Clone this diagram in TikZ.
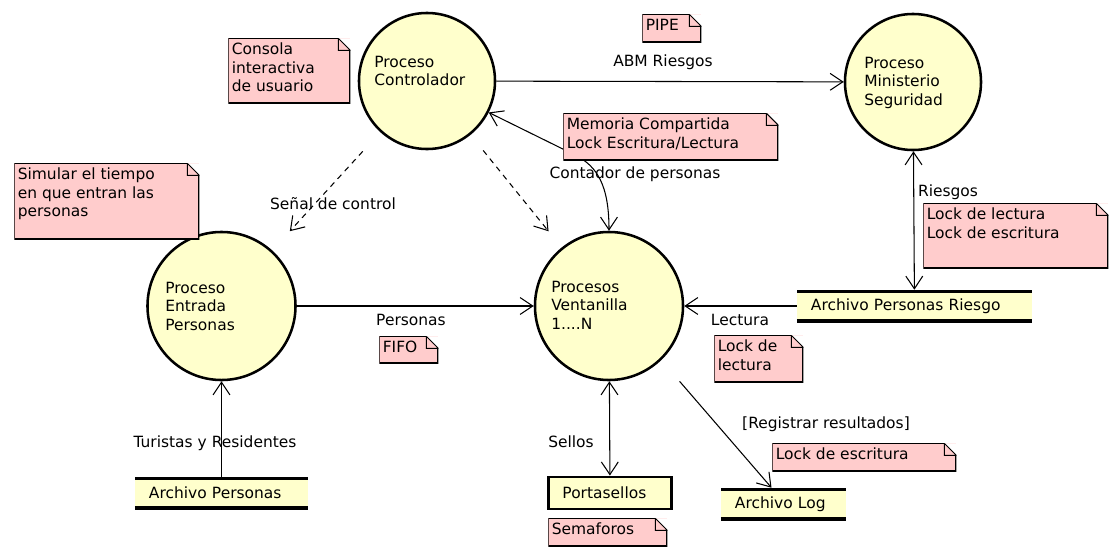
\documentclass[tikz,border=0pt]{standalone}
\usepackage{fontspec}
\setmainfont{DejaVu Sans}
\usetikzlibrary{arrows.meta}

\definecolor{procyellow}{RGB}{255,255,204}
\definecolor{notepink}{RGB}{255,204,204}
\newcommand{\notefold}{0.3cm}

\begin{document}
\begin{tikzpicture}[
    x=0.025cm, y=-0.025cm,
    every node/.style={font=\fontsize{11}{13}\selectfont},
    >={Straight Barb[length=9pt,width=12pt]},
    proc/.style = {
        circle,
        draw=black,
        line width=1.8pt,
        fill=procyellow,
        minimum size=3.4cm,
        inner sep=0pt
    },
    proctext/.style = {
        anchor=north west,
        align=left,
        inner sep=0pt
    },
    store/.style = {
        rectangle,
        fill=procyellow,
        minimum height=0.8cm,
        inner ysep=0pt,
        inner xsep=0.35cm,
        align=left,
        path picture={
            \draw[line width=4.2pt]
                (path picture bounding box.north west) -- (path picture bounding box.north east)
                (path picture bounding box.south west) -- (path picture bounding box.south east);
        }
    },
    stamp/.style = {
        rectangle,
        draw=black,
        line width=2.1pt,
        fill=procyellow,
        minimum height=0.8cm,
        inner ysep=0pt,
        inner xsep=0.35cm,
        align=left
    },
    note/.style = {
        rectangle,
        fill=notepink,
        anchor=north west,
        inner sep=0pt,
        path picture={
            \fill[white] ([xshift=-\notefold]path picture bounding box.north east)
                -- (path picture bounding box.north east)
                -- ([yshift=-\notefold]path picture bounding box.north east) -- cycle;
            \draw[line width=1.4pt] ([xshift=-\notefold]path picture bounding box.north east)
                -- (path picture bounding box.north west)
                -- (path picture bounding box.south west)
                -- (path picture bounding box.south east)
                -- ([yshift=-\notefold]path picture bounding box.north east);
            \draw[line width=0.7pt] ([xshift=-\notefold]path picture bounding box.north east)
                -- ([yshift=-\notefold]path picture bounding box.north east)
                ([xshift=-\notefold]path picture bounding box.north east)
                |- ([yshift=-\notefold]path picture bounding box.north east);
        }
    },
    notetext/.style = {
        anchor=north west,
        align=left,
        inner xsep=2.5pt,
        inner ysep=3.5pt
    },
    flow/.style = {->, line width=0.75pt},
    twoway/.style = {<->, line width=0.75pt},
    dflow/.style = {flow, dash pattern=on 4pt off 3.5pt},
    flowlabel/.style = {anchor=base, inner sep=0pt}
]
    \useasboundingbox (0,0) rectangle (1120,560);

    % Processes
    \node [proc] (ctrl) at (427,81) {};
    \node [proc] (minis) at (913,82) {};
    \node [proc, minimum size=3.7cm] (entr) at (221.5,306) {};
    \node [proc, minimum size=3.7cm] (vent) at (609,306) {};

    \node [proctext] (ctrl-txt) at (374,56) {Proceso\\Controlador};
    \node [proctext] (minis-txt) at (864,57) {Proceso\\Ministerio\\Seguridad};
    \node [proctext] (entr-txt) at (165,282) {Proceso\\Entrada\\Personas};
    \node [proctext] (vent-txt) at (551,281) {Procesos\\Ventanilla\\1....N};

    % Stores
    \node [store, text width=5.175cm] (apr) at (914.5,306) {Archivo Personas Riesgo};
    \node [store, text width=3.625cm] (apers) at (221.5,493) {Archivo Personas};
    \node [store, text width=2.425cm] (alog) at (783.5,504) {Archivo Log};
    \node [stamp, text width=2.375cm] (porta) at (610,493) {Portasellos};

    % Flows
    \draw [flow] (ctrl) -- (minis);
    \draw [dflow, shorten <=0.65cm, shorten >=0.65cm] (ctrl) -- (entr);
    \draw [dflow, shorten <=0.5cm, shorten >=0.52cm] (ctrl) -- (vent);
    \draw [twoway] (ctrl.-27) -- (575,155) .. controls (597,166) and (609,185) .. (vent.north);
    \draw [flow] (entr) -- (vent);
    \draw [flow] (apers) -- (entr);
    \draw [twoway] (minis) -- (apr);
    \draw [flow] (apr) -- (vent);
    \draw [twoway] (vent) -- (porta);
    \draw [flow, shorten <=0.7cm] (vent.-46) -- ([xshift=-0.3cm]alog.north);

    % Flow labels
    \node [flowlabel] (abm-lbl) at (663,66) {ABM Riesgos};
    \node [flowlabel] (senal-lbl) at (333,209) {Señal de control};
    \node [flowlabel] (cont-lbl) at (635,178) {Contador de personas};
    \node [flowlabel] (pers-lbl) at (411,325) {Personas};
    \node [flowlabel] (tur-lbl) at (215,447) {Turistas y Residentes};
    \node [flowlabel] (ries-lbl) at (948,196) {Riesgos};
    \node [flowlabel] (lect-lbl) at (740,325) {Lectura};
    \node [flowlabel] (sell-lbl) at (571,447) {Sellos};
    \node [flowlabel] (reg-lbl) at (826,428) {[Registrar resultados]};

    % Notes
    \node [note, minimum width=3.05cm, minimum height=1.625cm,
        label={[notetext]north west:{Consola\\interactiva\\de usuario}}] (consola) at (228,38) {};
    \node [note, minimum width=1.475cm, minimum height=0.7cm,
        label={[notetext]north west:{PIPE}}] (pipe) at (642,14) {};
    \node [note, minimum width=5.375cm, minimum height=1.175cm,
        label={[notetext]north west:{Memoria Compartida\\Lock Escritura/Lectura}}] (memoria) at (563,113) {};
    \node [note, minimum width=4.625cm, minimum height=1.9cm,
        label={[notetext]north west:{Simular el tiempo\\en que entran las\\personas}}] (simular) at (14,163) {};
    \node [note, minimum width=4.625cm, minimum height=1.625cm,
        label={[notetext]north west:{Lock de lectura\\Lock de escritura}}] (lockrw) at (923,203) {};
    \node [note, minimum width=1.475cm, minimum height=0.675cm,
        label={[notetext]north west:{FIFO}}] (fifo) at (379,336) {};
    \node [note, minimum width=2.225cm, minimum height=1.175cm,
        label={[notetext]north west:{Lock de\\lectura}}] (lockr) at (714,335) {};
    \node [note, minimum width=4.6cm, minimum height=0.7cm,
        label={[notetext]north west:{Lock de escritura}}] (lockw) at (772,443) {};
    \node [note, minimum width=2.975cm, minimum height=0.7cm,
        label={[notetext]north west:{Semaforos}}] (semaforos) at (548,518) {};

\end{tikzpicture}
\end{document}
